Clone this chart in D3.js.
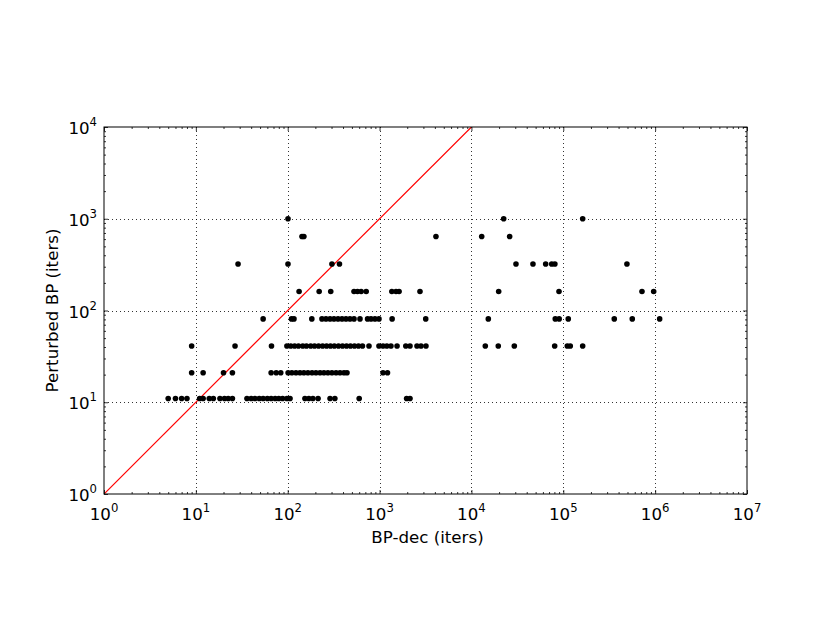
<!DOCTYPE html>
<html>
<head>
<meta charset="utf-8">
<script src="https://cdn.jsdelivr.net/npm/d3@7"></script>
<style>
  html, body { margin: 0; padding: 0; background: #fff; }
  svg { display: block; }
  text { font-family: "DejaVu Sans", sans-serif; fill: #000; }
</style>
</head>
<body>
<svg id="chart" width="830" height="623"></svg>
<script>
// ---- data ----
const xDecades = [1, 10, 100, 1000, 10000, 100000, 1000000, 10000000];
const xExponents = ["0", "1", "2", "3", "4", "5", "6", "7"];
const yDecades = [1, 10, 100, 1000, 10000];
const yExponents = ["0", "1", "2", "3", "4"];

const row11 = [5, 6, 7, 8, 11, 12, 14, 15.5, 18.3, 20.5, 22.5, 25, 36, 40, 44, 49, 54, 60, 66, 73, 80, 88, 98, 106, 154, 170, 188, 214, 289, 326, 600, 1970, 2144];
const row21 = [9, 12, 20, 25, 66, 75, 84, 101, 111, 123, 136, 150, 166, 184, 203, 225, 248, 274, 303, 336, 371, 410, 442, 1090, 1220];
const row41 = [9, 26.7, 66.6, 98, 108, 119, 131, 146, 160, 178, 196, 217, 240, 265, 292, 322, 357, 395, 437, 482, 533, 589, 651, 767, 985, 1090, 1200, 1330, 1550, 1930, 2144, 2555, 2825, 3200, 14160, 19600, 29300, 80600, 110600, 119200, 162600];
const row81 = [54, 110, 117, 183, 236, 261, 289, 319, 353, 390, 431, 476, 527, 612, 740, 807, 891, 985, 1370, 3180, 15270, 81800, 90200, 113300, 359000, 563800, 1120000];
const row161 = [133, 220, 294, 527, 575, 630, 715, 1360, 1510, 1630, 2754, 19800, 89800, 719000, 964000];
const row321 = [28.8, 100.7, 303, 366, 30550, 46770, 64300, 74800, 81000, 493000];
const row641 = [143, 150, 4110, 12940, 26070];
const row1001 = [100.7, 22440, 162600];

const rowYValues = [11, 21, 41, 81, 161, 321, 641, 1001];
const rowXValues = [row11, row21, row41, row81, row161, row321, row641, row1001];

const diagonal = [1, 10000];

const xLabel = "BP-dec (iters)";
const yLabel = "Perturbed BP (iters)";

// ---- layout ----
const L = 104, R = 747, T = 127, B = 494;
const svg = d3.select("#chart");

const x = d3.scaleLog().domain([1, 1e7]).range([L, R]);
const y = d3.scaleLog().domain([1, 1e4]).range([B, T]);

const points = [];
rowYValues.forEach((yv, i) => rowXValues[i].forEach(xv => points.push({x: xv, y: yv})));

function minors(decades) {
  const out = [];
  for (let i = 0; i < decades.length - 1; i++)
    for (let k = 2; k <= 9; k++) out.push(decades[i] * k);
  return out;
}
const xMinor = minors(xDecades);
const yMinor = minors(yDecades);

svg.append("defs").append("clipPath").attr("id", "clip")
  .append("rect").attr("x", L).attr("y", T).attr("width", R - L).attr("height", B - T);

// grid
const grid = svg.append("g").attr("stroke", "#000").attr("stroke-width", 0.8)
  .attr("stroke-dasharray", "1,3").attr("fill", "none");
grid.selectAll(".gx").data(xDecades.slice(1, -1)).join("line")
  .attr("x1", d => Math.round(x(d)) + 0.5).attr("x2", d => Math.round(x(d)) + 0.5)
  .attr("y1", T).attr("y2", B);
grid.selectAll(".gy").data(yDecades.slice(1, -1)).join("line")
  .attr("y1", d => Math.round(y(d)) + 0.5).attr("y2", d => Math.round(y(d)) + 0.5)
  .attr("x1", L).attr("x2", R);

// diagonal
svg.append("line").attr("clip-path", "url(#clip)")
  .attr("x1", x(diagonal[0])).attr("y1", y(diagonal[0]))
  .attr("x2", x(diagonal[1])).attr("y2", y(diagonal[1]))
  .attr("stroke", "#ff0000").attr("stroke-width", 1.2);

// points
svg.append("g").selectAll("circle").data(points).join("circle")
  .attr("cx", d => x(d.x)).attr("cy", d => y(d.y)).attr("r", 2.8).attr("fill", "#000");

// ticks inward on all sides
function tickAxis(axisFn, scale, vals, size, transform) {
  svg.append("g").attr("transform", transform)
    .call(axisFn(scale).tickValues(vals).tickSize(size).tickFormat(""))
    .call(g => g.select(".domain").remove())
    .selectAll("line").attr("stroke", "#000").attr("stroke-width", 0.8);
}
tickAxis(d3.axisBottom, x, xDecades, -4, `translate(0,${B})`);
tickAxis(d3.axisBottom, x, xMinor, -2, `translate(0,${B})`);
tickAxis(d3.axisTop, x, xDecades, -4, `translate(0,${T})`);
tickAxis(d3.axisTop, x, xMinor, -2, `translate(0,${T})`);
tickAxis(d3.axisLeft, y, yDecades, -4, `translate(${L},0)`);
tickAxis(d3.axisLeft, y, yMinor, -2, `translate(${L},0)`);
tickAxis(d3.axisRight, y, yDecades, -4, `translate(${R},0)`);
tickAxis(d3.axisRight, y, yMinor, -2, `translate(${R},0)`);

// frame
svg.append("rect").attr("x", L).attr("y", T).attr("width", R - L).attr("height", B - T)
  .attr("fill", "none").attr("stroke", "#000").attr("stroke-width", 1);

// tick labels
const fs = 16.67;
xDecades.forEach((d, i) => {
  const t = svg.append("text").attr("x", x(d)).attr("y", B + 26)
    .attr("text-anchor", "middle").attr("font-size", fs);
  t.append("tspan").text("10");
  t.append("tspan").attr("font-size", fs * 0.7).attr("dy", -8).text(xExponents[i]);
});
yDecades.forEach((d, i) => {
  const t = svg.append("text").attr("x", L - 7).attr("y", y(d) + 7)
    .attr("text-anchor", "end").attr("font-size", fs);
  t.append("tspan").text("10");
  t.append("tspan").attr("font-size", fs * 0.7).attr("dy", -8).text(yExponents[i]);
});

// axis labels
svg.append("text").attr("x", (L + R) / 2 + 2).attr("y", 543)
  .attr("text-anchor", "middle").attr("font-size", fs).text(xLabel);
svg.append("text").attr("transform", `translate(58,${(T + B) / 2}) rotate(-90)`)
  .attr("text-anchor", "middle").attr("font-size", fs).text(yLabel);
</script>
</body>
</html>
